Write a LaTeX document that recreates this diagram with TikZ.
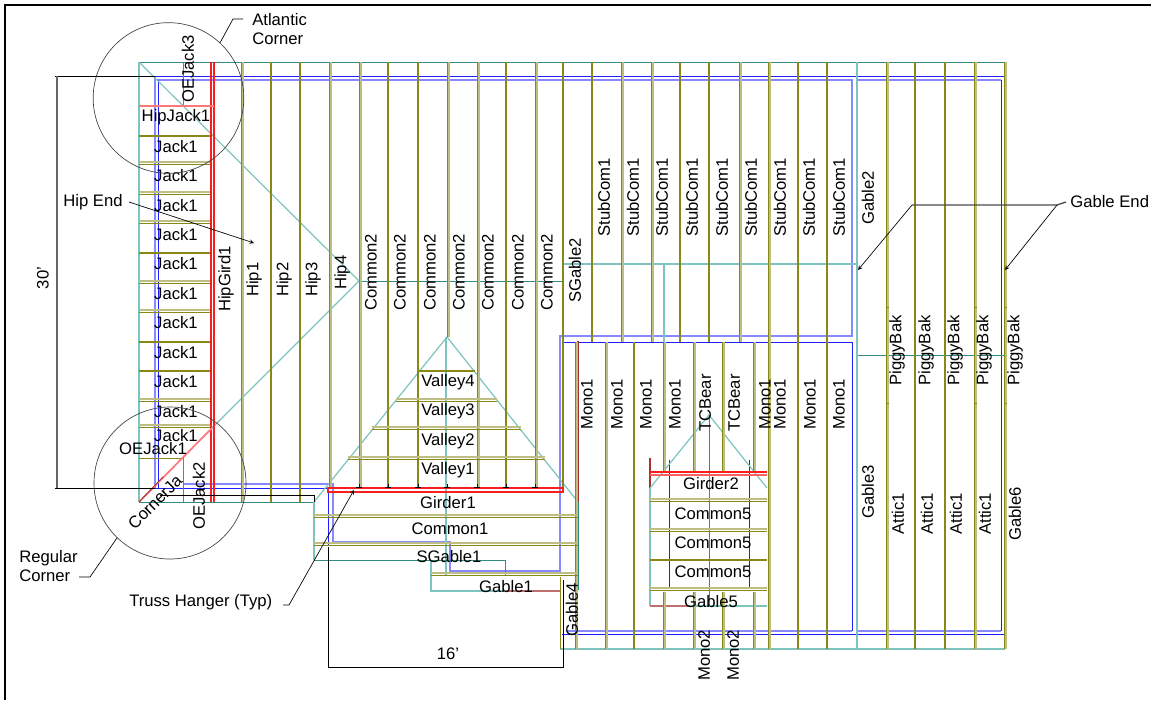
\documentclass[tikz,border=0pt]{standalone}
\usepackage{fontspec}
\setmainfont{Liberation Sans}
\definecolor{trussdark}{RGB}{136,136,20}
\definecolor{trusslite}{RGB}{190,190,130}
\definecolor{tealdark}{RGB}{50,140,130}
\definecolor{teallite}{RGB}{125,195,190}
\definecolor{bluelite}{RGB}{135,135,255}
\definecolor{bluedark}{RGB}{30,30,255}
\definecolor{hangred}{RGB}{250,30,30}
\definecolor{darkred}{RGB}{165,50,50}
\begin{document}
\begin{tikzpicture}[x=0.75pt,y=-0.75pt]
        \tikzstyle{every node} = [font=\fontsize{12.5pt}{14pt}\selectfont,inner sep=0pt]
        \tikzstyle{solid truss} = [trussdark,line width=1.25pt]
        \tikzstyle{thin truss} = [trussdark,line width=0.6pt]
        \tikzstyle{pale truss} = [trusslite,line width=1.5pt]
        \tikzstyle{eave} = [tealdark,line width=0.75pt]
        \tikzstyle{ridge} = [teallite,line width=0.9pt]
        \tikzstyle{wall} = [bluedark,line width=0.6pt]
        \tikzstyle{pale wall} = [bluelite,line width=1.3pt]
        \tikzstyle{girder} = [hangred,line width=0.8pt]
        \tikzstyle{leader} = [black,line width=0.5pt]
        \tikzstyle{dimline} = [black,line width=0.6pt]
        \tikzstyle{upright} = [rotate=90,anchor=west]
        \useasboundingbox (0,0) rectangle (1151,700);
        \draw[black,line width=1.5pt] (5,700) -- (5,5) -- (1151,5);
            \begin{scope}
                % walls
                \draw[pale wall] (155,76) -- (155,488);
                \draw[pale wall] (157,80) -- (852,80) -- (852,336) -- (560,336) -- (560,571) -- (450,571) -- (450,542) -- (333,542) -- (333,484) -- (183,484);
                \draw[pale wall] (857,80) -- (1001,80);
                \draw[pale wall] (566,631) -- (852,631);
                \draw[pale wall] (857,631) -- (1001,631);
                \draw[wall] (155,76) -- (1004,76);
                \draw[wall] (158,488) -- (158,80);
                \draw[wall] (155,488) -- (328,488) -- (328,545);
                \draw[wall] (1001,80) -- (1001,631);
                \draw[wall] (563,342) -- (852,342) -- (852,631);
                \draw[wall] (562,634) -- (1005,634);
                \draw[wall] (669,460) -- (669,587) -- (749,587) -- (749,460);

                % roof lines
                \draw[eave] (139,62) -- (1005,62);
                \draw[eave] (359,281) -- (563,281);
                \draw[ridge] (563,264) -- (857,264);
                \draw[ridge] (664,264) -- (664,342);
                \draw[eave] (857,355) -- (1005,355);
                \draw[ridge] (139,62) -- (139,502);
                \draw[ridge] (139,62) -- (359,281) -- (212,428);
                \draw[eave] (139,502) -- (314,502);
                \draw[ridge] (314,502) -- (314,560);
                \draw[eave] (314,560) -- (505,560) -- (505,575);
                \draw[ridge] (431,560) -- (431,591) -- (505,591);
                \draw[darkred!70,line width=0.9pt] (505,591) -- (560,591);
                \draw[ridge] (314,502) -- (447,337) -- (578,502);
                \draw[ridge] (446,337) -- (446,575);
                \draw[darkred,line width=0.9pt] (578,341) -- (578,502);
                \draw[eave] (578,502) -- (578,590);
                \draw[ridge] (560,649) -- (1005,649);
                \draw[ridge] (857,62) -- (857,649);
                \draw[darkred,line width=0.8pt] (650,458) -- (650,488);
                \draw[ridge] (650,488) -- (709,415) -- (767,488);
                \draw[ridge] (650,488) -- (650,606);
                \draw[eave] (709,415) -- (709,606);
                \draw[darkred!70,line width=0.9pt] (650,606) -- (690,606);
                \draw[ridge] (690,606) -- (767,606);

                % trusses running up and down
                \foreach \x/\a/\b in {271/62/502,300/62/502,388/62/488,418/62/488,506/62/488,563/62/493,592/62/342,680/62/342,709/62/342,798/62/342,827/62/342,915/62/649,945/62/649,634/342/649,798/342/649,827/342/649}{
                    \draw[solid truss] (\x,\a) -- (\x,\b);
                }
                \foreach \x/\a/\b in {241/62/502,329/62/488,359/62/488,447/62/337,477/62/488,535/62/488,621/62/342,651/62/342,739/62/342,768/62/342,886/62/649,974/62/649,1004/62/649,575/342/649,605/342/649,663/342/472,663/592/649,693/342/472,693/592/649,722/342/472,722/592/649,753/342/472,753/592/649,768/342/649}{
                    \draw[pale truss] (\x+1.8,\a) -- (\x+1.8,\b);
                    \draw[thin truss] (\x,\a) -- (\x,\b);
                }
                \draw[thin truss] (560,577) -- (560,649);
                \draw[thin truss] (183,62) -- (183,106);
                \draw[thin truss] (183,458) -- (183,502);
                \foreach \x in {886,974,1004}{
                    \foreach \y in {307,403}{
                        \draw[thin truss] (\x,\y) -- (\x+3,\y);
                    }
                }

                % trusses running across
                \foreach \y/\a/\b in {136/139/211,253/139/211,342/139/211,371/139/211,371/418/475,560/650/767}{
                    \draw[solid truss] (\a,\y) -- (\b,\y);
                }
                \foreach \y/\a/\b in {164/139/211,194/139/211,223/139/211,283/139/211,312/139/211,401/139/211,427/139/211,401/396/497,429/372/521,459/348/545,517/314/578,545/314/578,575/431/578,501/650/767,531/650/767,590/650/767}{
                    \draw[pale truss] (\a,\y-1.8) -- (\b,\y-1.8);
                    \draw[thin truss] (\a,\y) -- (\b,\y);
                }
                \draw[thin truss] (139,458) -- (183,458);

                % girders
                \draw[girder] (211,62) -- (211,502);
                \draw[girder] (214,62) -- (214,502);
                \draw[hangred!60,line width=1.5pt] (139,106) -- (214,106);
                \draw[hangred!60,line width=1.3pt] (212,428) -- (139,502);
                \draw[darkred,line width=0.6pt] (163,477) -- (139,502);
                \draw[girder] (328,488) -- (563,488) -- (563,492) -- (328,492) -- cycle;
                \draw[girder] (650,472) -- (767,472);
                \draw[hangred!70,line width=0.8pt] (650,475) -- (767,475);

                % hangers
                \foreach \x in {359,388,418,447,477,506,535}{
                    \draw[leader] (\x-3,487) -- (\x+3,487);
                    \draw[leader] (\x,484) -- (\x,487);
                }
             \end{scope}

             % dimensions
             \draw[dimline] (155,76) -- (55,76);
             \draw[dimline] (155,488) -- (55,488);
             \draw[black!60,line width=1.1pt] (57,76) -- (57,488);
             \draw[dimline] (563,580) -- (563,667) -- (328,667) -- (328,547);
             \draw[dimline] (160,495) -- (314,495) -- (314,502);
             \node (dim30) at (43,278) [rotate=90] {30'};
             \node (dim16) at (448,654) {16'};

             % truss names
             \node (oejack3) at (188,103) [upright] {OEJack3};
             \node (hipjack1) at (176,117) {HipJack1};
             \foreach \y [count=\i] in {147,176,206,235,264,294,323,353,382,412,436}{
                 \node (jack\i) at (176,\y) {Jack1};
             }
             \node (oejack1) at (153,449) {OEJack1};
             \node (oejack2) at (199,530) [upright] {OEJack2};
             \node (cornerja) at (155,502) [rotate=45] {CornerJa};
             \node (hipgird1) at (226,312) [upright] {HipGird1};
             \node (hip1) at (254,297) [upright] {Hip1};
             \node (hip2) at (284,297) [upright] {Hip2};
             \node (hip3) at (313,297) [upright] {Hip3};
             \node (hip4) at (342,290) [upright] {Hip4};
             \foreach \x [count=\i] in {371,400,430,459,488,518,547}{
                 \node (common\i) at (\x,311) [upright] {Common2};
             }
             \node (sgable2) at (575,303) [upright] {SGable2};
             \foreach \x [count=\i] in {604,633,662,692,722,751,780,809,839}{
                 \node (stubcom\i) at (\x,237) [upright] {StubCom1};
             }
             \node (gable2) at (868,225) [upright] {Gable2};
             \node (gable3) at (868,519) [upright] {Gable3};
             \node (gable6) at (1015,541) [upright] {Gable6};
             \node (gable4) at (572,637) [upright] {Gable4};
             \foreach \x [count=\i] in {897,926,955,984,1015}{
                 \node (piggybak\i) at (\x,386) [upright] {PiggyBak};
             }
             \foreach \x [count=\i] in {898,927,956,985}{
                 \node (attic\i) at (\x,535) [upright] {Attic1};
             }
             \foreach \x [count=\i] in {587,617,646,675,765,780,810,839}{
                 \node (mono\i) at (\x,430) [upright] {Mono1};
             }
             \node (tcbear1) at (705,432) [upright] {TCBear};
             \node (tcbear2) at (734,432) [upright] {TCBear};
             \node (mono2a) at (704,681) [upright] {Mono2};
             \node (mono2b) at (733,681) [upright] {Mono2};
             \node (girder2) at (711,484) {Girder2};
             \foreach \y [count=\i] in {514,543,572}{
                 \node (common5\i) at (713,\y) {Common5};
             }
             \node (gable5) at (711,602) {Gable5};
             \foreach \y/\n in {470/1,441/2,411/3,382/4}{
                 \node (valley\n) at (448,\y) {Valley\n};
             }
             \node (girder1) at (448,503) {Girder1};
             \node (common1) at (450,529) {Common1};
             \node (sgable1) at (449,557) {SGable1};
             \node (gable1) at (506,587) {Gable1};

             % callouts
             \node (atlcircle) at (168.5,98) [circle,draw=black!75,line width=0.5pt,minimum size=113pt] {};
             \node (regcircle) at (170,483) [circle,draw=black!75,line width=0.5pt,minimum size=114pt] {};
             \node (atlantic) at (252,29) [anchor=west,align=left] {Atlantic\\Corner};
             \node (regular) at (19,566) [anchor=west,align=left] {Regular\\Corner};
             \node (trusshanger) at (129,602) [anchor=west] {Truss Hanger (Typ)};
             \node (hipend) at (63,202) [anchor=west] {Hip End};
             \node (gableend) at (1070,202) [anchor=west] {Gable End};

             \coordinate (atlbend) at (233,19);
             \coordinate (atlend) at (243,19);
             \coordinate (regbend) at (90,577);
             \coordinate (regend) at (79,577);
             \coordinate (hangbend) at (289,605);
             \coordinate (hangend) at (283,605);
             \coordinate (hangtip) at (354,490);
             \coordinate (hipstart) at (129,202);
             \coordinate (hiptip) at (254,243);
             \coordinate (gablebend) at (912,205);
             \coordinate (gablefork) at (1057,205);
             \coordinate (gableleft) at (858,270);
             \coordinate (gableright) at (1005,270);

             \draw[leader] (atlcircle.47) -- (atlbend) -- (atlend);
             \draw[leader] (regcircle.226) -- (regbend) -- (regend);
             \draw[leader,-stealth] (hangend) -- (hangbend) -- (hangtip);
             \draw[leader,-stealth] (hipstart) -- (hiptip);
             \draw[black!70,line width=1pt] (gablebend) -- (gablefork) -- ([xshift=-3pt]gableend.west);
             \draw[leader,-stealth] (gablebend) -- (gableleft);
             \draw[leader,-stealth] (gablefork) -- (gableright);
         \end{tikzpicture}
\end{document}
